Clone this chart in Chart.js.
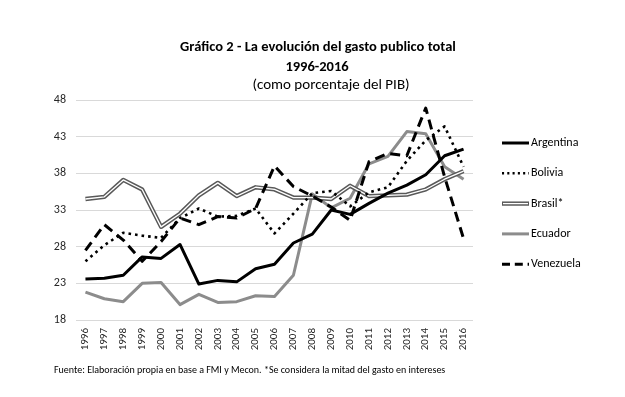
<!DOCTYPE html>
<html lang="es">
<head>
<meta charset="utf-8">
<title>Gráfico 2 - gasto publico total</title>
<script src="https://cdn.jsdelivr.net/npm/chart.js@4.4.1/dist/chart.umd.min.js"></script>
<style>
  body { margin: 0; background: #fff; }
  #wrap { position: relative; width: 625px; height: 397px;
          font-family: Carlito, "Liberation Sans Narrow", "Liberation Sans", sans-serif; color: #000; }
  #grafico { position: absolute; left: 0; top: 0; }
  .linea { position: absolute; left: 0; text-align: center; white-space: nowrap; }
  #t1 { top: 37px; width: 636px; font-size: 14.5px; font-weight: bold; }
  #t2 { top: 57px; width: 634px; font-size: 14.5px; font-weight: bold; }
  #t3 { top: 75px; width: 662px; font-size: 15px; }
  #fuente { position: absolute; left: 54px; top: 363px; font-size: 10px; white-space: nowrap; }
</style>
</head>
<body>
<div id="wrap">
  <canvas id="grafico" width="625" height="397"></canvas>
  <div class="linea" id="t1">Gráfico 2 - La evolución del gasto publico total</div>
  <div class="linea" id="t2">1996-2016</div>
  <div class="linea" id="t3">(como porcentaje del PIB)</div>
  <div id="fuente">Fuente: Elaboración propia en base a FMI y Mecon. *Se considera la mitad del gasto en intereses</div>
</div>
<script>
// datos (% del PIB)
const anios = ['1996', '1997', '1998', '1999', '2000', '2001', '2002', '2003', '2004', '2005', '2006',
               '2007', '2008', '2009', '2010', '2011', '2012', '2013', '2014', '2015', '2016'];
const argentina = [23.6, 23.7, 24.1, 26.6, 26.4, 28.3, 22.9, 23.4, 23.2, 25.0, 25.6, 28.5, 29.7, 33.0, 32.4, 33.9, 35.3, 36.4, 37.8, 40.4, 41.3];
const bolivia   = [26.0, 28.2, 29.9, 29.5, 29.2, 31.9, 33.2, 32.1, 32.2, 33.2, 29.8, 32.5, 35.3, 35.6, 33.5, 35.4, 36.1, 39.7, 42.5, 44.4, 38.9];
const brasil    = [34.5, 34.8, 37.1, 35.8, 30.7, 32.5, 35.0, 36.7, 34.9, 36.1, 35.8, 34.7, 34.7, 34.5, 36.3, 34.9, 35.0, 35.1, 35.8, 37.2, 38.3];
const ecuador   = [21.8, 20.9, 20.5, 23.0, 23.1, 20.1, 21.5, 20.4, 20.5, 21.3, 21.2, 24.1, 35.2, 33.3, 34.6, 39.3, 40.3, 43.7, 43.4, 38.9, 37.2];
const venezuela = [27.5, 31.0, 28.9, 26.0, 28.7, 31.9, 31.0, 32.1, 31.9, 33.2, 39.0, 36.2, 34.9, 33.4, 31.6, 39.6, 40.7, 40.4, 46.9, 37.5, 29.1];
const etiquetasY = [18, 23, 28, 33, 38, 43, 48];

const fuente = 'Carlito, "Liberation Sans Narrow", "Liberation Sans", sans-serif';
Chart.defaults.font.family = fuente;
Chart.defaults.color = '#262626';

function serie(label, data, color, ancho, dash, orden) {
  return {
    label: label,
    data: data,
    borderColor: color,
    backgroundColor: color,
    borderWidth: ancho,
    borderDash: dash,
    borderCapStyle: 'butt',
    borderJoinStyle: 'round',
    pointRadius: 0,
    tension: 0,
    fill: false,
    order: orden,
    enLeyenda: true
  };
}

const brasilInterior = serie('', brasil, '#ffffff', 1.3, [], 3);
brasilInterior.enLeyenda = false;
const brasilExterior = serie('Brasil*', brasil, '#595959', 4.3, [], 4);
brasilExterior.interior = brasilInterior;

const datasets = [
  serie('Argentina', argentina, '#000000', 3, [], 0),
  serie('Bolivia', bolivia, '#000000', 2.6, [2.6, 4], 2),
  brasilExterior,
  brasilInterior,
  serie('Ecuador', ecuador, '#8c8c8c', 3, [], 5),
  serie('Venezuela', venezuela, '#000000', 3, [10, 6], 1)
];

// leyenda a la derecha, como en el original
const leyenda = {
  id: 'leyenda',
  afterDraw(chart) {
    const ctx = chart.ctx;
    const area = chart.chartArea;
    const x0 = area.right + 29;
    const largo = 27;
    let y = area.top + 43;
    ctx.save();
    chart.data.datasets.forEach(ds => {
      if (!ds.enLeyenda) return;
      ctx.lineCap = 'butt';
      ctx.beginPath();
      ctx.setLineDash(ds.borderDash.length ? [ds.borderDash[0] * 0.8, ds.borderDash[1] * 0.8] : []);
      ctx.strokeStyle = ds.borderColor;
      ctx.lineWidth = ds.borderWidth;
      ctx.moveTo(x0, y);
      ctx.lineTo(x0 + largo, y);
      ctx.stroke();
      if (ds.interior) {
        ctx.beginPath();
        ctx.strokeStyle = ds.interior.borderColor;
        ctx.lineWidth = ds.interior.borderWidth;
        ctx.moveTo(x0 + 1, y);
        ctx.lineTo(x0 + largo - 1, y);
        ctx.stroke();
      }
      ctx.setLineDash([]);
      ctx.fillStyle = '#000';
      ctx.font = '12px ' + fuente;
      ctx.textBaseline = 'middle';
      ctx.textAlign = 'left';
      ctx.fillText(ds.label, x0 + largo + 2, y);
      y += 30.3;
    });
    ctx.restore();
  }
};

new Chart(document.getElementById('grafico'), {
  type: 'line',
  data: { labels: anios, datasets: datasets },
  options: {
    responsive: false,
    animation: false,
    layout: { padding: { top: 100, left: 50, right: 152, bottom: 43 } },
    plugins: {
      legend: { display: false },
      tooltip: { enabled: false }
    },
    scales: {
      x: {
        offset: true,
        grid: { display: false, drawTicks: false },
        border: { display: false },
        ticks: { autoSkip: false, maxRotation: 90, minRotation: 90, padding: 8, font: { size: 11 }, color: '#262626' },
        afterFit(scale) { scale.height = 34; }
      },
      y: {
        min: etiquetasY[0],
        max: etiquetasY[etiquetasY.length - 1],
        afterBuildTicks(scale) { scale.ticks = etiquetasY.map(v => ({ value: v })); },
        grid: { color: '#d9d9d9', lineWidth: 1, drawTicks: false },
        border: { display: false },
        ticks: { padding: 10, font: { size: 12 }, color: '#262626' },
        afterFit(scale) { scale.width = 26; }
      }
    }
  },
  plugins: [leyenda]
});
</script>
</body>
</html>
